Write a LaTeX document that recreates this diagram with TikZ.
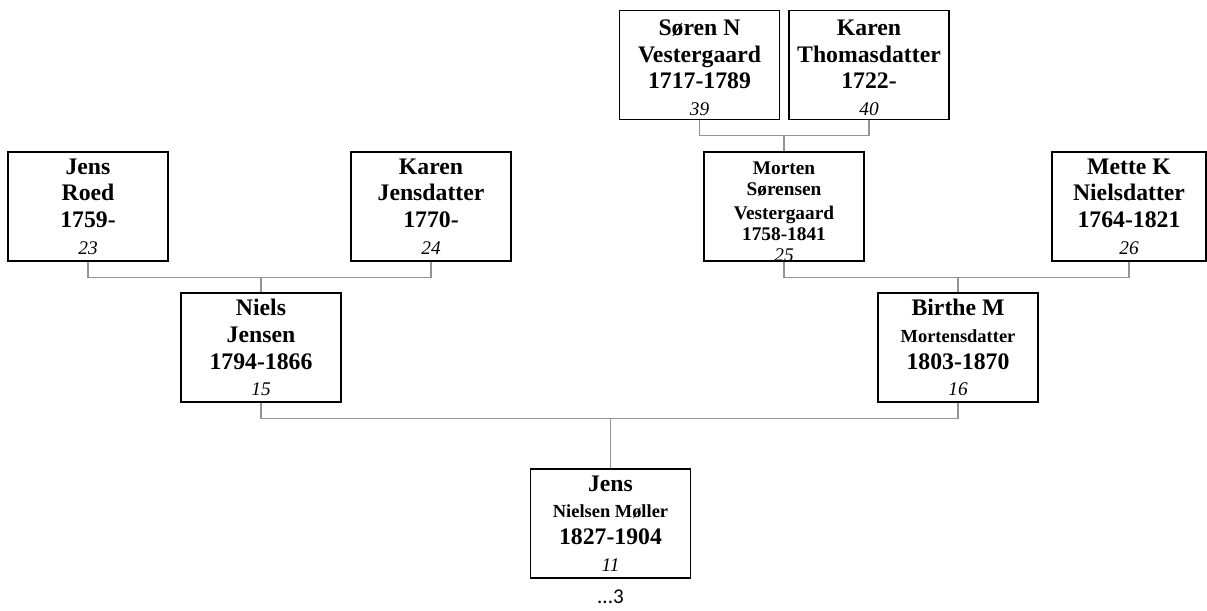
\documentclass[tikz,border=0pt]{standalone}
\usepackage{fontspec}
\setmainfont{Liberation Serif}
\newfontfamily\kecil{Carlito}
\usetikzlibrary{calc,positioning}
\tikzset{
	orang/.style={draw=black,line width=0.8pt,rectangle,minimum width=3.2cm,minimum height=2.18cm,
		inner sep=1pt,align=center,font=\fontsize{13.5}{15.2}\selectfont\bfseries},
	garis/.style={draw=black!42,line width=0.6pt}
}
\newcommand{\nomor}[1]{{\fontsize{11}{13}\selectfont\mdseries\itshape #1}}
\newcommand{\kecilb}[1]{{\fontsize{10.5}{12}\selectfont #1}}

\begin{document}
\begin{tikzpicture}[x=0.02cm,y=-0.02cm]
\useasboundingbox (0,0) rectangle (1207,610);

% kakek-nenek buyut
\node[orang] (n39) at (699.5,65) {\rule{0pt}{12pt}Søren N\\Vestergaard\\1717-1789\\\nomor{39}};
\node[orang] (n40) at (869,65) {\rule{0pt}{12pt}Karen\\Thomasdatter\\1722-\\\nomor{40}};

% kakek-nenek
\node[orang] (n23) at (88,206.5) {Jens\\Roed\\1759-\\\nomor{23}};
\node[orang] (n24) at (431,206.5) {Karen\\Jensdatter\\1770-\\\nomor{24}};
\node[orang] (n25) at (784,206.5) {};
\node[align=center,inner sep=0pt,font=\fontsize{11}{12}\selectfont\bfseries] (t25)
	at ([yshift=-3pt]n25.center) {Morten\\Sørensen\\[2pt]Vestergaard\\1758-1841\\\nomor{25}};
\node[orang,minimum width=3.08cm] (n26) at (1129,206.5) {Mette K\\Nielsdatter\\1764-1821\\\nomor{26}};

% orang tua
\node[orang] (n15) at (261,347.5) {Niels\\Jensen\\1794-1866\\\nomor{15}};
\node[orang] (n16) at (958,347.5) {Birthe M\\\kecilb{Mortensdatter}\\1803-1870\\\nomor{16}};

% anak
\node[orang] (n11) at (610.5,523.5) {Jens\\\kecilb{Nielsen Møller}\\1827-1904\\\nomor{11}};
\node[font=\kecil\fontsize{12}{14}\selectfont] (lanjut) at (610.5,597) {...3};

% garis penghubung
\draw[garis] (n39.south) -- ++(0,15) coordinate (t1) -| (n40.south);
\draw[garis] (n25.north) -- (n25.north |- t1);
\draw[garis] (n23.south) -- ++(0,16) coordinate (t2) -| (n24.south);
\draw[garis] (n15.north) -- (n15.north |- t2);
\draw[garis] (n25.south) -- ++(0,16) coordinate (t3) -| (n26.south);
\draw[garis] (n16.north) -- (n16.north |- t3);
\draw[garis] (n15.south) -- ++(0,16) coordinate (t4) -| (n16.south);
\draw[garis] (n11.north) -- (n11.north |- t4);

\end{tikzpicture}
\end{document}
